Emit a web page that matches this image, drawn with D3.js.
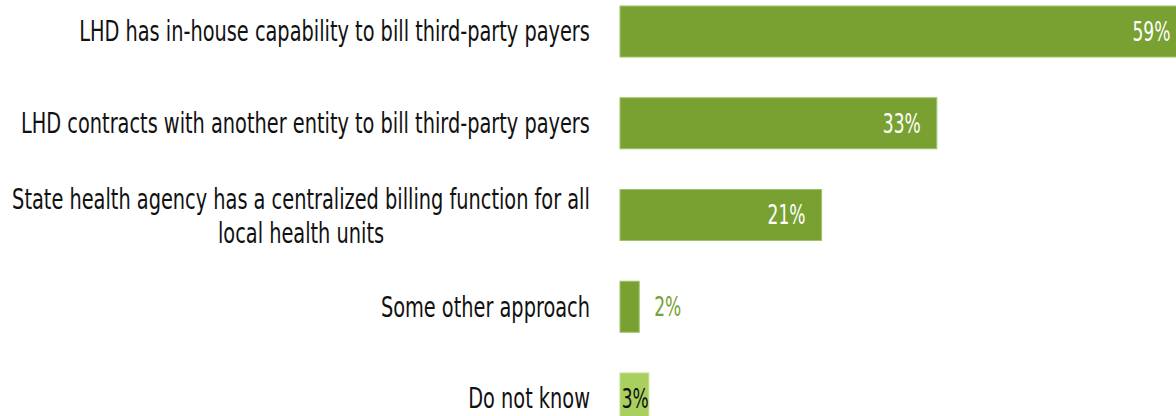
<!DOCTYPE html>
<html>
<head>
<meta charset="utf-8">
<script src="https://cdn.jsdelivr.net/npm/d3@7"></script>
<style>
  html, body { margin: 0; padding: 0; background: #ffffff; overflow: hidden; }
  svg { display: block; }
  text { font-family: "Liberation Sans Narrow", "DejaVu Sans Condensed", "Roboto Condensed", "Liberation Sans", sans-serif; }
</style>
</head>
<body>
<svg id="chart" width="1176" height="416"></svg>
<script>
// Billing approaches reported by local health departments (percent)
const categories = [
  "LHD has in-house capability to bill third-party payers",
  "LHD contracts with another entity to bill third-party payers",
  "State health agency has a centralized billing function for all local health units",
  "Some other approach",
  "Do not know"
];
const labelLines = [
  ["LHD has in-house capability to bill third-party payers"],
  ["LHD contracts with another entity to bill third-party payers"],
  ["State health agency has a centralized billing function for all", "local health units"],
  ["Some other approach"],
  ["Do not know"]
];
const values = [59, 33, 21, 2, 3];
const groups = ["approach", "approach", "approach", "approach", "unknown"];

const W = 1176, H = 416;
const colors = { approach: "#78a132", unknown: "#a9cf5f" };
const strokes = { approach: "#9fc26a", unknown: "#c2df8e" };

const svg = d3.select("#chart");

const x = d3.scaleLinear().domain([0, 100]).range([620, 1580]);
const y = d3.scaleBand().domain(categories).range([6, 424]).paddingInner(0.444).paddingOuter(0);

const rows = categories.map((c, i) => ({ cat: c, lines: labelLines[i], v: values[i], g: groups[i] }));

// bars
svg.append("g").selectAll("rect").data(rows).join("rect")
  .attr("x", x(0))
  .attr("y", d => y(d.cat))
  .attr("width", d => x(d.v) - x(0))
  .attr("height", y.bandwidth())
  .attr("fill", d => colors[d.g])
  .attr("stroke", d => strokes[d.g])
  .attr("stroke-width", 1);

// category labels: each block is right-aligned against the bars,
// lines inside a wrapped block are centred on one another
const labelRight = 590;
const lineGap = 34;
const catG = svg.append("g");
const blocks = catG.selectAll("g").data(rows).join("g");
blocks.each(function (d) {
  const g = d3.select(this);
  d.lines.forEach(ln => {
    g.append("text")
      .attr("class", "cat")
      .attr("dy", "0.35em")
      .attr("font-size", 28)
      .attr("fill", "#111111")
      .text(ln);
  });
});
// condense horizontally to a narrow face
const refText = catG.selectAll("text.cat").filter(function () {
  return this.textContent === labelLines[2][0];
}).node();
const kCat = refText ? 578 / refText.getComputedTextLength() : 1;
blocks.each(function (d) {
  const texts = d3.select(this).selectAll("text.cat").nodes();
  const widths = texts.map(t => t.getComputedTextLength() * kCat);
  const blockW = d3.max(widths);
  const cx = labelRight - blockW / 2;
  const cy = y(d.cat) + y.bandwidth() / 2;
  const n = texts.length;
  texts.forEach((t, j) => {
    const off = (j - (n - 1) / 2) * lineGap + (n > 1 ? 1 : 0);
    d3.select(t)
      .attr("text-anchor", "middle")
      .attr("transform", `translate(${cx},${cy + off}) scale(${kCat},1)`);
  });
});

// value labels
const fmt = d => d + "%";
const valG = svg.append("g");
const vals = valG.selectAll("text").data(rows).join("text")
  .attr("font-size", 26)
  .attr("dy", "0.36em")
  .text(d => fmt(d.v));
const probe = vals.filter(d => d.v === 33).node();
const kVal = probe ? 38 / probe.getComputedTextLength() : 1;
vals.each(function (d) {
  const t = d3.select(this);
  const cy = y(d.cat) + y.bandwidth() / 2;
  let px, anchor, fill;
  if (d.g === "unknown") {
    px = x(d.v); anchor = "end"; fill = "#111111";
  } else if (d.v >= 10) {
    px = x(d.v) - 16; anchor = "end"; fill = "#ffffff";
  } else {
    px = x(d.v) + 15; anchor = "start"; fill = colors[d.g];
  }
  t.attr("text-anchor", anchor)
   .attr("fill", fill)
   .attr("transform", `translate(${px},${cy}) scale(${kVal},1)`);
});
</script>
</body>
</html>
